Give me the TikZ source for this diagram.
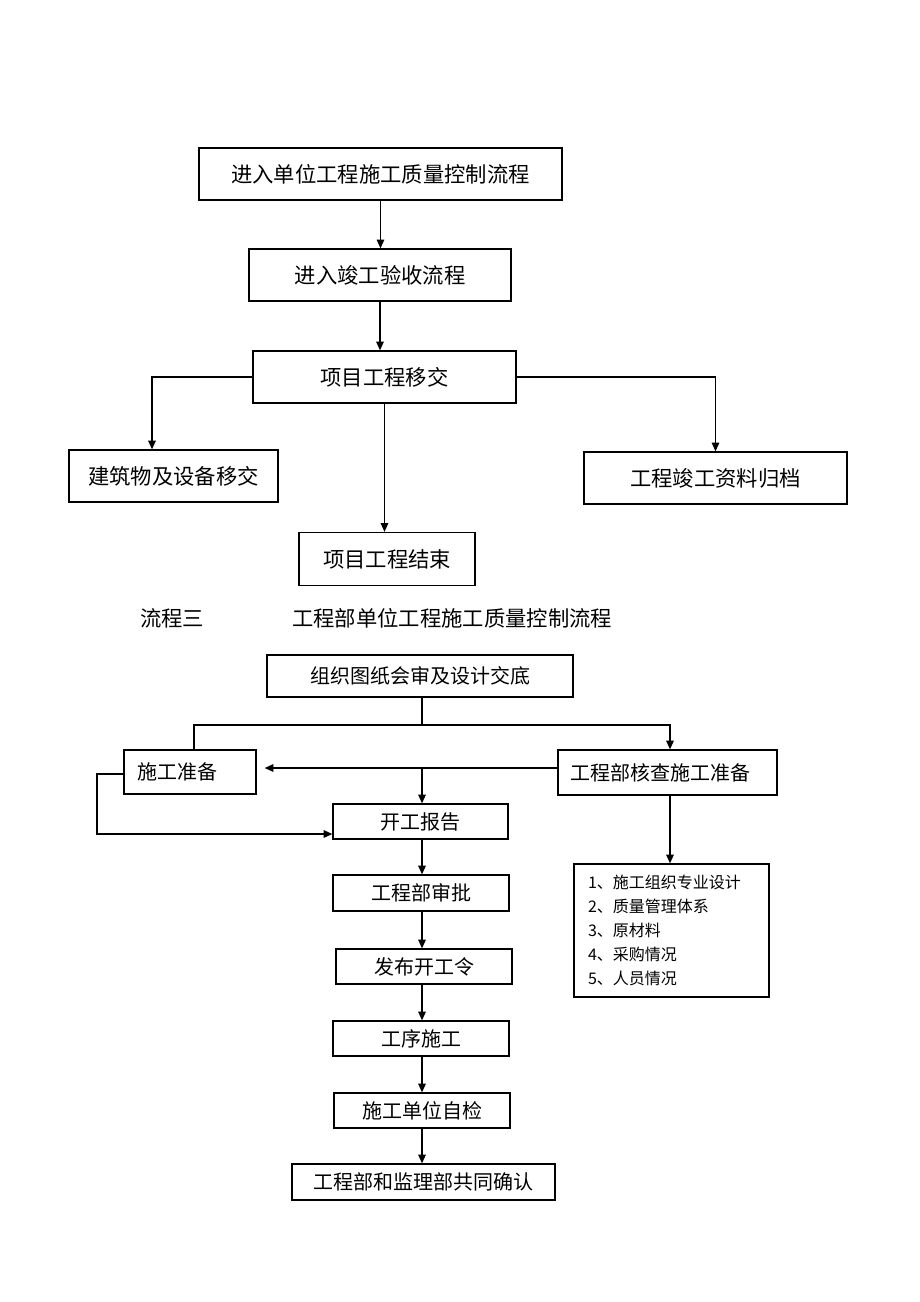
\documentclass[tikz,border=0pt]{standalone}
\usepackage{fontspec}
\setmainfont{Noto Sans CJK SC}
\usepackage{tikz}
\usetikzlibrary{arrows.meta,calc,positioning}

\tikzset{
  box/.style = {draw, line width=0.9pt, inner sep=0pt, align=center},
  bigbox/.style = {box, font=\fontsize{16pt}{18pt}\selectfont, minimum height=39pt},
  smallbox/.style = {box, font=\fontsize{15pt}{17pt}\selectfont},
  arr/.style = {line width=1.1pt, -{Triangle[length=6.5pt,width=5.5pt]}},
  ln/.style = {line width=1.1pt}
}

\begin{document}
\begin{tikzpicture}[x=0.75pt, y=-0.75pt]
\useasboundingbox (0,0) rectangle (920,1302);
% completion part
\node[bigbox, minimum width=272.25pt] (enter) at (380.5,174) {进入单位工程施工质量控制流程};
\node[bigbox, minimum width=196.5pt] (accept) at (380,275) {进入竣工验收流程};
\node[bigbox, minimum width=197.25pt] (handover) at (384.5,377) {项目工程移交};
\node[bigbox, minimum width=156.75pt] (building) at (173.5,476) {建筑物及设备移交};
\node[bigbox, minimum width=197.25pt] (archive) at (715.5,478) {工程竣工资料归档};
\node[bigbox, minimum width=132pt, minimum height=39.75pt] (finish) at (387,559) {项目工程结束};
\draw[arr] (enter.south) -- (enter.south |- accept.north);
\draw[arr] (accept.south) -- (accept.south |- handover.north);
\draw[arr] (handover.west) -| ($(building.north)+(-21.5,0)$);
\draw[arr] (handover.east) -| (archive.north);
\draw[arr] (handover.south) -- (handover.south |- finish.north);
%
% flow three
\node[anchor=west, inner sep=0pt, font=\fontsize{16pt}{18pt}\selectfont] (flowno) at (140,618) {流程三};
\node[anchor=west, inner sep=0pt, font=\fontsize{16pt}{18pt}\selectfont] (flowtitle) at (292,618) {工程部单位工程施工质量控制流程};
\node[smallbox, minimum width=229.5pt, minimum height=31.5pt] (drawings) at (420,676) {组织图纸会审及设计交底};
\node[smallbox, minimum width=99pt, minimum height=33pt, text width=79.5pt, align=left] (prep) at (190,772) {施工准备};
\node[smallbox, minimum width=164.25pt, minimum height=33.75pt, text width=146.25pt, align=left] (check) at (667.5,772.5) {工程部核查施工准备};
\node[smallbox, minimum width=131.25pt, minimum height=26.25pt] (report) at (420.5,821.5) {开工报告};
\node[smallbox, minimum width=132pt, minimum height=27pt] (approve) at (421,893) {工程部审批};
\node[smallbox, minimum width=132pt, minimum height=26.25pt] (order) at (424,966.5) {发布开工令};
\node[smallbox, minimum width=132pt, minimum height=26.25pt] (work) at (421,1038.5) {工序施工};
\node[smallbox, minimum width=132pt, minimum height=26.25pt] (selfcheck) at (422,1110.5) {施工单位自检};
\node[smallbox, minimum width=197.25pt, minimum height=27pt] (confirm) at (423.5,1182) {工程部和监理部共同确认};
\node[box, minimum width=146.25pt, minimum height=99.75pt, text width=125.25pt, align=left,
      font=\fontsize{12pt}{18pt}\selectfont] (items) at (671.5,930.5)
  {1、施工组织专业设计\\2、质量管理体系\\3、原材料\\4、采购情况\\5、人员情况};
%
\coordinate (split) at (422,725);
\coordinate (mid) at (422,768);
\coordinate (loop) at (97,834);
\draw[ln] (drawings.south -| split) -- (split);
\draw[arr] ($(prep.north)+(4,0)$) |- (split) -| ($(check.north)+(2.5,0)$);
\draw[arr] (check.west |- mid) -- ($(prep.east |- mid)+(8,0)$);
\draw[arr] (mid) -- (mid |- report.north);
\draw[arr] (prep.west |- 0,774) -| (loop) -- (loop -| report.west);
\foreach \a/\b in {report/approve,approve/order,order/work,work/selfcheck,selfcheck/confirm}
  \draw[arr] (\a.south -| mid) -- (\b.north -| mid);
\draw[arr] ($(check.south)+(2.5,0)$) -- ($(check.south |- items.north)+(2.5,0)$);
\end{tikzpicture}
\end{document}
